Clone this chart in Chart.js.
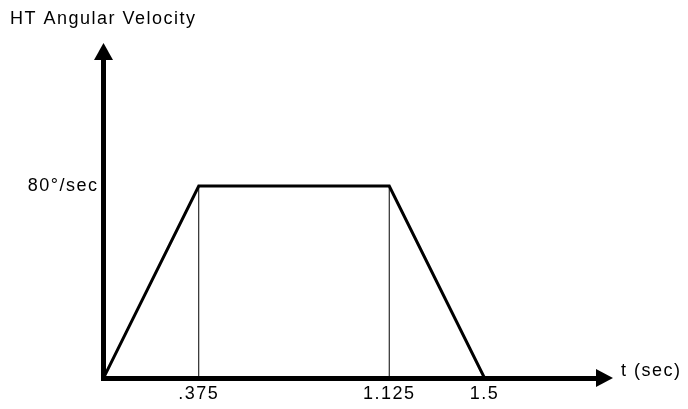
<!DOCTYPE html>
<html>
<head>
<meta charset="utf-8">
<title>HT Angular Velocity</title>
<script src="https://cdn.jsdelivr.net/npm/chart.js@4.4.1/dist/chart.umd.min.js"></script>
<style>
  html, body { margin: 0; padding: 0; background: #fff; }
  #wrap { position: relative; width: 688px; height: 409px; }
</style>
</head>
<body>
<div id="wrap"><canvas id="velocity-chart"></canvas></div>
<script>
// Trapezoidal velocity profile: ramp up, hold, ramp down
const times = [0, 0.375, 1.125, 1.5];
const velocity = [0, 80, 80, 0];

// Thin guide lines dropped from the plateau corners
const guideTimes = [0.375, 1.125];

// Tick labels
const xTicks = [0.375, 1.125, 1.5];
const xTickLabels = ['.375', '1.125', '1.5'];
const yTicks = [80];
const yTickLabels = ['80\u00b0/sec'];

const chartTitle = 'HT Angular Velocity';
const xAxisLabel = 't (sec)';

const FONT = '"Liberation Sans", Arial, sans-serif';
const SPACING = '1.5px';

// Axis arrowheads, heading and the "t (sec)" label
const axisDecor = {
  id: 'axisDecor',
  beforeDraw: function(chart) {
    // looser letter spacing for every piece of text on the canvas
    chart.ctx.letterSpacing = SPACING;
  },
  afterDraw: function(chart) {
    const ctx = chart.ctx;
    const x = chart.scales.x;
    const y = chart.scales.y;
    const ox = x.getPixelForValue(0);
    const oy = y.getPixelForValue(0);
    const top = chart.chartArea.top;
    const right = chart.chartArea.right;

    ctx.save();
    ctx.fillStyle = '#000';

    // up arrow on the y axis
    ctx.beginPath();
    ctx.moveTo(ox, top - 17);
    ctx.lineTo(ox - 9.5, top);
    ctx.lineTo(ox + 9.5, top);
    ctx.closePath();
    ctx.fill();

    // right arrow on the x axis
    ctx.beginPath();
    ctx.moveTo(right + 17, oy);
    ctx.lineTo(right, oy - 9);
    ctx.lineTo(right, oy + 9);
    ctx.closePath();
    ctx.fill();

    ctx.letterSpacing = SPACING;
    ctx.font = '18px ' + FONT;
    ctx.textAlign = 'left';
    ctx.textBaseline = 'alphabetic';
    ctx.fillText(chartTitle, 10, 24);

    ctx.textBaseline = 'middle';
    ctx.fillText(xAxisLabel, right + 25, oy - 7);
    ctx.restore();
  }
};

const guideSets = guideTimes.map(function(t) {
  const i = times.indexOf(t);
  return {
    data: [{ x: t, y: 0 }, { x: t, y: velocity[i] }],
    borderColor: '#000',
    borderWidth: 1,
    pointRadius: 0,
    fill: false
  };
});

const ctx = document.getElementById('velocity-chart').getContext('2d');
const chart = new Chart(ctx, {
  type: 'line',
  data: {
    datasets: [{
      data: times.map(function(t, i) { return { x: t, y: velocity[i] }; }),
      borderColor: '#000',
      borderWidth: 3,
      pointRadius: 0,
      tension: 0,
      fill: false
    }].concat(guideSets)
  },
  options: {
    responsive: true,
    maintainAspectRatio: false,
    animation: false,
    layout: { padding: { left: 0, top: 60, right: 92, bottom: 0 } },
    plugins: {
      legend: { display: false },
      tooltip: { enabled: false },
      title: { display: false }
    },
    scales: {
      x: {
        type: 'linear',
        min: 0,
        max: 1.939,
        grid: { display: false, drawTicks: false },
        border: { display: true, color: '#000', width: 5 },
        afterBuildTicks: function(scale) {
          scale.ticks = xTicks.map(function(v) { return { value: v }; });
        },
        afterFit: function(scale) { scale.height = 31; },
        ticks: {
          autoSkip: false,
          maxRotation: 0,
          padding: 5,
          color: '#000',
          font: { family: FONT, size: 18 },
          callback: function(value) {
            const i = xTicks.indexOf(value);
            return i >= 0 ? xTickLabels[i] : '';
          }
        }
      },
      y: {
        type: 'linear',
        min: 0,
        max: 132.5,
        grid: { display: false, drawTicks: false },
        border: { display: true, color: '#000', width: 5 },
        afterBuildTicks: function(scale) {
          scale.ticks = yTicks.map(function(v) { return { value: v }; });
        },
        afterFit: function(scale) { scale.width = 103.5; },
        ticks: {
          padding: 5,
          color: '#000',
          font: { family: FONT, size: 18 },
          callback: function(value) {
            const i = yTicks.indexOf(value);
            return i >= 0 ? yTickLabels[i] : '';
          }
        }
      }
    }
  },
  plugins: [axisDecor]
});
</script>
</body>
</html>
